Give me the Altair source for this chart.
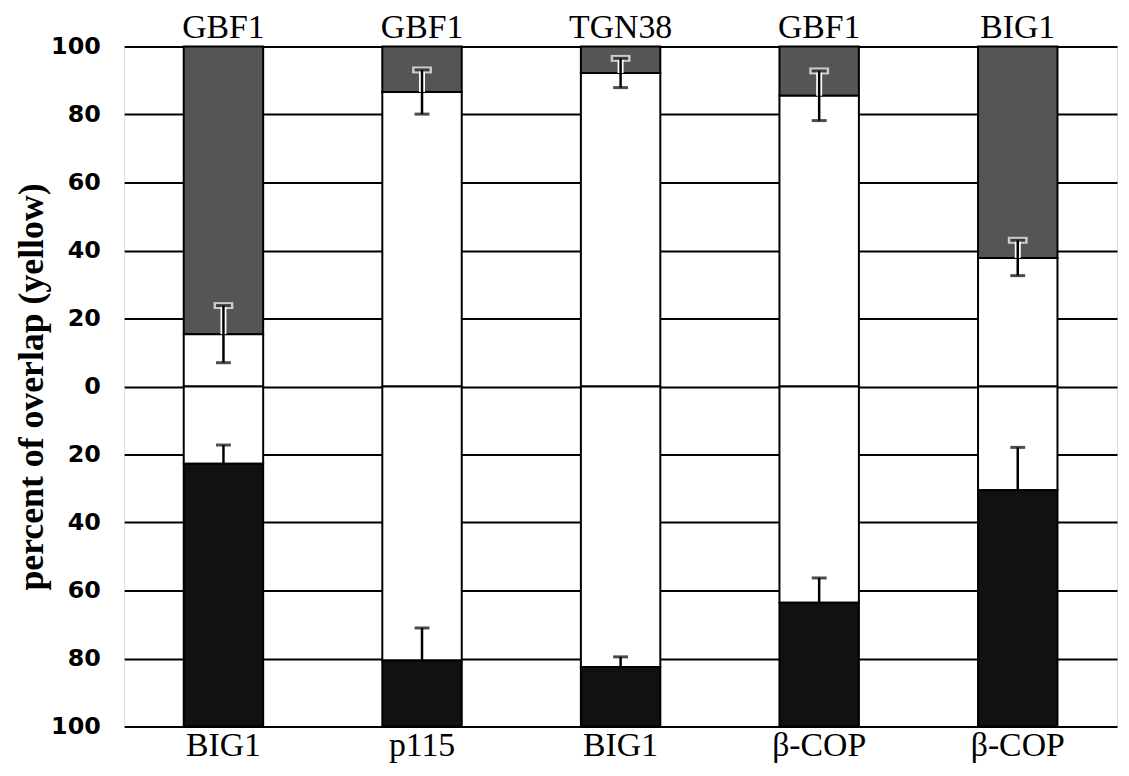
import altair as alt
import pandas as pd

# ---- data ----
top_names = ["GBF1", "GBF1", "TGN38", "GBF1", "BIG1"]
bottom_names = ["BIG1", "p115", "BIG1", "β-COP", "β-COP"]
top_overlap = [15.4, 86.6, 92.2, 85.5, 37.8]
top_err = [8.4, 6.5, 4.3, 7.3, 5.2]
bottom_overlap = [22.7, 80.6, 82.5, 63.6, 30.5]
bottom_err = [5.5, 9.6, 3.0, 7.3, 12.6]
y_ticks = [-100, -80, -60, -40, -20, 0, 20, 40, 60, 80, 100]

df = pd.DataFrame({
    "pair": [f"{t}|{b}" for t, b in zip(top_names, bottom_names)],
    "top": top_overlap,
    "top_err": top_err,
    "bot": bottom_overlap,
    "bot_err": bottom_err,
})

SERIF = "Liberation Serif"
GRAY = "#555555"
BLACK = "#111111"
PLOT_H = 685
PAD_TOP = 36

xscale = alt.Scale(paddingInner=0.6, paddingOuter=0.3)
yscale = alt.Scale(domain=[-100, 100], nice=False, zero=False)

x_bottom = alt.X(
    "pair:N", sort=None, scale=xscale,
    axis=alt.Axis(orient="bottom", title=None, ticks=False, domain=False,
                  labelAngle=0, labelExpr="split(datum.value, '|')[1]",
                  labelFont=SERIF, labelFontSize=34, labelColor="black",
                  labelPadding=2),
)
x_top = alt.X(
    "pair:N", sort=None, scale=xscale,
    axis=alt.Axis(orient="top", title=None, ticks=False, domain=False,
                  labelAngle=0, labelExpr="split(datum.value, '|')[0]",
                  labelFont=SERIF, labelFontSize=34, labelColor="black",
                  labelPadding=2),
)
x_plain = alt.X("pair:N", sort=None, scale=xscale, axis=None)

yaxis = alt.Axis(
    values=y_ticks, labelExpr="abs(datum.value)",
    title="percent of overlap (yellow)",
    grid=True, gridColor="black", gridWidth=2, gridOpacity=1,
    ticks=False, domain=False,
    labelFont="DejaVu Sans", labelFontWeight="bold", labelFontSize=24,
    labelColor="black", labelPadding=24,
    titleFont=SERIF, titleFontSize=36, titleFontWeight="bold",
    titleColor="black", titleAngle=270, titleAlign="center",
    titleBaseline="alphabetic", titleX=-82, titleY=PLOT_H / 2,
)


def Y(field):
    return alt.Y(field, type="quantitative", scale=yscale, axis=yaxis)


base = alt.Chart(df).transform_calculate(
    full="100", zero="0", neg_full="-100", nbot="-datum.bot",
    top_lo="datum.top - datum.top_err", top_hi="datum.top + datum.top_err",
    bot_hi="-datum.bot + datum.bot_err",
)

bar_style = dict(stroke="black", strokeWidth=2)

gray = base.mark_bar(color=GRAY, **bar_style).encode(
    x=x_top, y=Y("full"), y2="top:Q")
white_top = base.mark_bar(color="white", **bar_style).encode(
    x=x_bottom, y=Y("top"), y2="zero:Q")
white_bot = base.mark_bar(color="white", **bar_style).encode(
    x=x_plain, y=Y("zero"), y2="nbot:Q")
black = base.mark_bar(color=BLACK, **bar_style).encode(
    x=x_plain, y=Y("nbot"), y2="neg_full:Q")

halo_stem = base.mark_rule(color="white", strokeWidth=6).encode(
    x=x_plain, y=Y("top"), y2="top_hi:Q")
halo_cap = base.mark_tick(color="white", thickness=7, size=20).encode(
    x=x_plain, y=Y("top_hi"))
stem_top = base.mark_rule(color="black", strokeWidth=2.5).encode(
    x=x_plain, y=Y("top_lo"), y2="top_hi:Q")
cap_top_hi = base.mark_tick(color="black", thickness=3, size=15).encode(
    x=x_plain, y=Y("top_hi"))
cap_top_lo = base.mark_tick(color="black", thickness=3, size=15).encode(
    x=x_plain, y=Y("top_lo"))
stem_bot = base.mark_rule(color="black", strokeWidth=2.5).encode(
    x=x_plain, y=Y("nbot"), y2="bot_hi:Q")
cap_bot = base.mark_tick(color="black", thickness=3, size=15).encode(
    x=x_plain, y=Y("bot_hi"))

chart = alt.layer(
    gray, white_top, white_bot, black,
    halo_stem, halo_cap, stem_top, cap_top_hi, cap_top_lo, stem_bot, cap_bot,
).resolve_axis(x="independent").properties(
    width=1000, height=PLOT_H,
    autosize=alt.AutoSizeParams(type="none"),
    padding={"left": 117, "top": PAD_TOP, "right": 4,
             "bottom": 760 - PAD_TOP - PLOT_H},
).configure_view(
    stroke="black", strokeWidth=2.5
).configure(background="white")

chart.save("out.html", embed_options={"renderer": "svg", "actions": False})
